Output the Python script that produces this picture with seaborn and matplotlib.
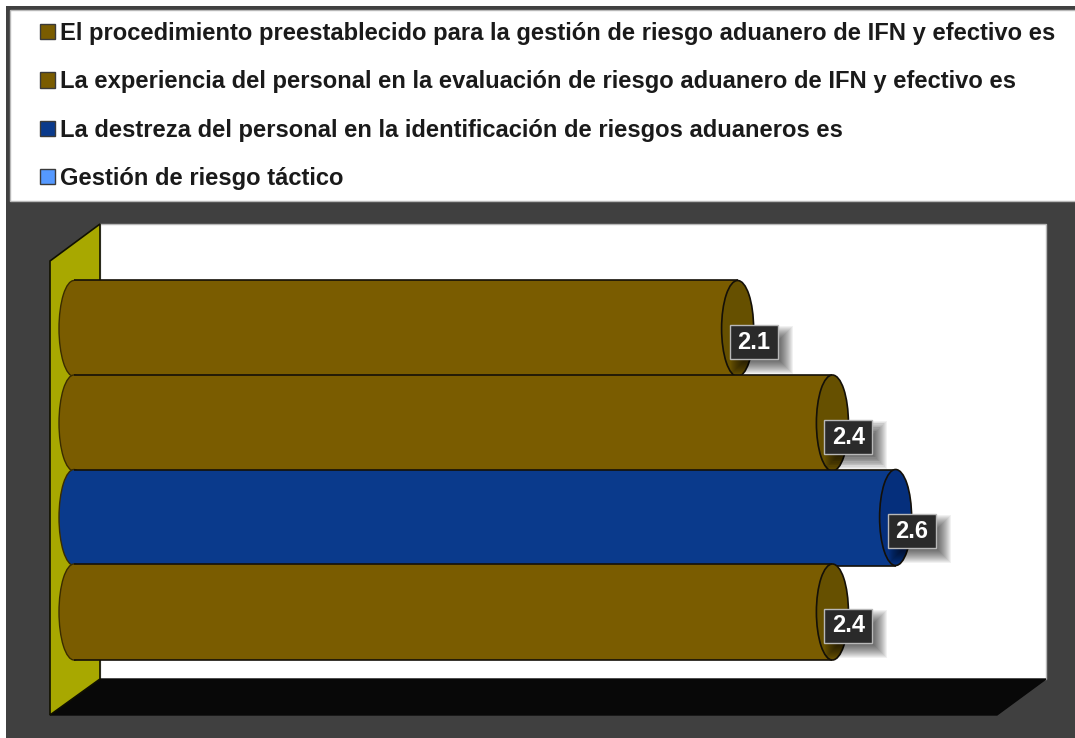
import matplotlib
matplotlib.use("Agg")
import matplotlib.pyplot as plt
from matplotlib.patches import Ellipse, Polygon, Rectangle
import pandas as pd
import seaborn as sns

W, H = 1075, 738

# Series shown as cylinders, top to bottom
categories = [
    "El procedimiento preestablecido para la gestión de riesgo aduanero de IFN y efectivo es",
    "La experiencia del personal en la evaluación de riesgo aduanero de IFN y efectivo es",
    "La destreza del personal en la identificación de riesgos aduaneros es",
    "Gestión de riesgo táctico",
]
values = [2.1, 2.4, 2.6, 2.4]
bar_colors = ["#7A5C00", "#7A5C00", "#0A3A8C", "#7A5C00"]
cap_colors = ["#665000", "#665000", "#052F7C", "#665000"]
legend_colors = ["#7A5C00", "#7A5C00", "#0A3A8C", "#5599FF"]

sns.set_theme(style="white")
plt.rcParams["font.family"] = ["Liberation Sans", "DejaVu Sans"]

fig = plt.figure(figsize=(W / 100, H / 100), dpi=100, facecolor="white")

# Backdrop: frame, legend panel, 3D wall and floor, in pixel coordinates
bg = fig.add_axes([0, 0, 1, 1], zorder=0)
bg.set_xlim(0, W)
bg.set_ylim(H, 0)
bg.axis("off")
bg.add_patch(Rectangle((6, 6), W - 6, H - 6, fc="#404040", ec="none"))
bg.add_patch(Rectangle((10, 10), W, 191, fc="white", ec="#B8B8B8", lw=1))
bg.add_patch(Rectangle((100, 224), 946, 455, fc="white", ec="#B8B8B8", lw=1))
bg.add_patch(Polygon([(50, 715), (100, 679), (1046, 679), (997, 715)], fc="#080808", ec="#080808", lw=1))
bg.add_patch(Polygon([(50, 261), (100, 224), (100, 679), (50, 715)], fc="#A8A800", ec="#101000", lw=1.2))

# Data axes spanning the figure: 316 px per unit, 94.5 px per row
PX_X = 1 / 316
PX_Y = 1 / 94.5
X0, Y0 = 74, 328.5

ax = fig.add_axes([0, 0, 1, 1], zorder=1)
ax.patch.set_visible(False)
df = pd.DataFrame({"serie": categories, "valor": values})
sns.barplot(
    data=df, x="valor", y="serie", hue="serie", orient="h", ax=ax, legend=False,
    palette=dict(zip(categories, bar_colors)), saturation=1, width=96 * PX_Y, linewidth=0,
)
ax.set_xlim(-X0 * PX_X, (W - X0) * PX_X)
ax.set_ylim((H - Y0) * PX_Y, -Y0 * PX_Y)
ax.axis("off")

# Round each bar into a cylinder and label it
edge = "#141008"
for i, (bar, val, body, cap) in enumerate(zip(ax.patches, values, bar_colors, cap_colors)):
    z = 10 + 2 * i
    bar.set_zorder(z)
    h = bar.get_height()
    y0 = bar.get_y()
    ax.add_patch(Ellipse((0, i), 30 * PX_X, h, fc=body, ec="#3A2C00", lw=1, zorder=z - 1))
    ax.plot([0, val], [y0, y0], color=edge, lw=1.2, zorder=z + 1, solid_capstyle="butt")
    ax.plot([0, val], [y0 + h, y0 + h], color=edge, lw=1.2, zorder=z + 1, solid_capstyle="butt")
    ax.add_patch(Ellipse((val, i), 32 * PX_X, h, fc=cap, ec=edge, lw=1.2, zorder=z + 1))

    # Soft drop shadow behind the value tag
    bx, by = val + 16 * PX_X, i + 13.5 * PX_Y
    bw, bh = 48 * PX_X, 34 * PX_Y
    for grow in range(7, -8, -1):
        ax.add_patch(Rectangle(
            (bx - bw / 2 + (8 - grow) * PX_X, by - bh / 2 + (8 - grow) * PX_Y),
            bw + 2 * grow * PX_X, bh + 2 * grow * PX_Y,
            fc="black", ec="none", alpha=0.055, zorder=40,
        ))
    ax.add_patch(Rectangle((bx - bw / 2, by - bh / 2), bw, bh, fc="#2A2A2A", ec="#B8B8B8", lw=1, zorder=41))
    ax.text(bx, by + 0.5 * PX_Y, f"{val:.1f}", color="white", fontsize=17, fontweight="bold",
            ha="center", va="center", zorder=42)

# Legend with all four series
fs = 17.1
fs_px = fs * 100 / 72
handles = [Rectangle((0, 0), 1, 1, fc=c, ec="#3A3A3A", lw=1) for c in legend_colors]
leg = ax.legend(
    handles, categories, loc="upper left", bbox_to_anchor=(40 / W, 1 - 22 / H),
    bbox_transform=fig.transFigure, frameon=False, borderpad=0, borderaxespad=0,
    prop={"size": fs, "weight": "bold"}, handlelength=15 / fs_px, handleheight=15 / fs_px,
    handletextpad=5 / fs_px, labelspacing=(46.6 - 0.895 * fs_px) / fs_px,
)
leg.set_zorder(60)
for t in leg.get_texts():
    t.set_color("#1A1A1A")

fig.savefig("out.png", dpi=100)
